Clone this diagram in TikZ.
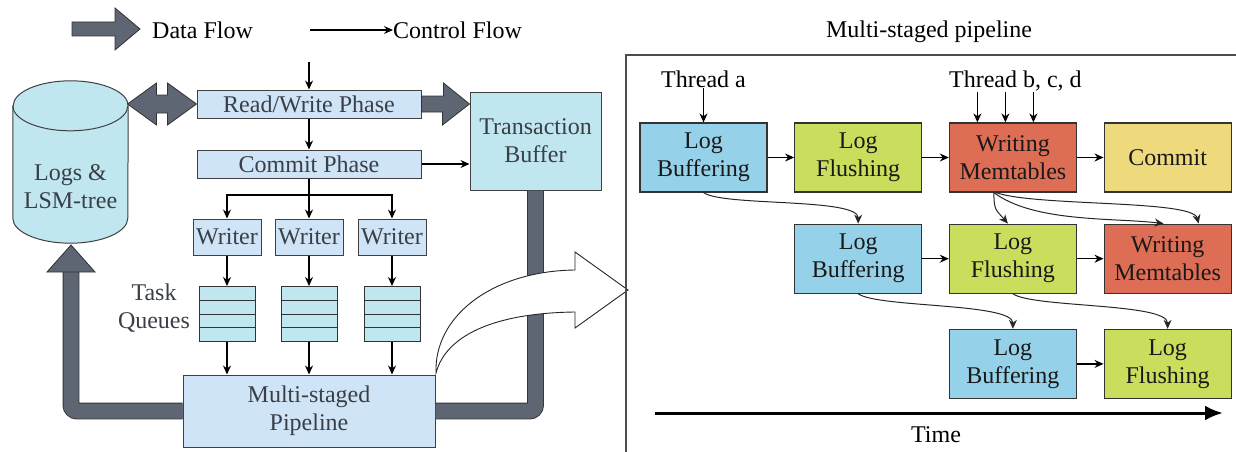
\documentclass[tikz,border=0pt]{standalone}
\usepackage{fontspec}
\setmainfont{LiberationSerif}[Extension=.ttf, UprightFont=*-Regular, BoldFont=*-Bold, ItalicFont=*-Italic, BoldItalicFont=*-BoldItalic]
\usepackage{xcolor}
\usetikzlibrary{arrows.meta,positioning,calc}

\definecolor{phaseblue}{HTML}{CFE4F6}
\definecolor{bufcyan}{HTML}{C0E6F0}
\definecolor{logblue}{HTML}{96D1EA}
\definecolor{flushgreen}{HTML}{CADD5C}
\definecolor{memred}{HTML}{DE6D55}
\definecolor{commityellow}{HTML}{EED97C}
\definecolor{flowgray}{HTML}{5E6673}
\definecolor{lefttext}{HTML}{3A3F47}

\begin{document}
\begin{tikzpicture}[
    x=1pt, y=1pt,
    font=\rmfamily\fontsize{24}{28}\selectfont,
    phase/.style={draw=black!75, fill=phaseblue, text=lefttext, align=center, inner sep=0pt, line width=1pt},
    queue/.style={draw=black!80, fill=bufcyan, line width=1pt, minimum width=56, minimum height=55, inner sep=0pt,
        path picture={\foreach \k in {1,2,3}
            \draw[line width=1pt, black!80]
                ($(path picture bounding box.north west)!\k/4!(path picture bounding box.south west)$) --
                ($(path picture bounding box.north east)!\k/4!(path picture bounding box.south east)$);}},
    stage/.style={draw=black!80, line width=1.2pt, align=center, text=black!90, minimum width=127, minimum height=69, inner sep=0pt},
    arrow/.style={-{Stealth[length=9pt, width=8pt]}, line width=1.2pt},
    curved/.style={-{Stealth[length=9pt, width=8pt]}, line width=1pt, black!85},
    fatflow/.style={draw=black!80, fill=flowgray, line width=0.8pt},
    fatpipe/.style={line width=0.9pt, black!80, double=flowgray, double distance=15pt, rounded corners=6pt},
    node distance=31 and 26.5
]
\useasboundingbox (0,0) rectangle (1236,451);

% legend
\draw[fatflow] (72,415) -- (115,415) -- (115,401) -- (140,422) -- (115,443) -- (115,429) -- (72,429) -- cycle;
\node[anchor=west, inner sep=0pt] (dflow) at (152,421) {Data Flow};
\coordinate (cfstart) at (310,421);
\node[anchor=west, inner sep=0pt] (cflow) at (393,421) {Control Flow};
\draw[arrow] (cfstart) -- (cflow.west);

% left: storage engine
\node[minimum width=115, minimum height=162, inner sep=0pt] (store) at (70.5,289) {};
\path[draw=black!75, fill=bufcyan, line width=1pt] ([yshift=-25]store.north west) -- ([yshift=25]store.south west)
    arc[start angle=180, end angle=360, x radius=57.5, y radius=25] -- ([yshift=-25]store.north east)
    arc[start angle=0, end angle=180, x radius=57.5, y radius=25] -- cycle;
\draw[black!75, line width=1pt] ([yshift=-25]store.north west) arc[start angle=180, end angle=360, x radius=57.5, y radius=25];
\node[align=center, text=lefttext] (storelabel) at (70.5,264) {Logs \&\\LSM-tree};

\node[phase, minimum width=224, minimum height=28] (rw) at (309,347) {Read/Write Phase};
\node[phase, minimum width=224, minimum height=28] (cphase) at (309,287) {Commit Phase};
\node[draw=black!75, fill=bufcyan, text=lefttext, align=center, line width=1pt, minimum width=131, minimum height=98] (tbuf) at (535.5,310) {Transaction\\Buffer};
\foreach \i/\cx in {1/227,2/309,3/392} {
    \node[phase, minimum width=68, minimum height=36] (writer\i) at (\cx,214) {Writer};
    \node[queue] (queue\i) at (\cx,137) {};
}
\node[align=center, inner sep=0pt, text=lefttext] (tasklabel) at (154,143) {Task\\Queues};
\node[phase, minimum width=252, minimum height=72] (pipe) at (309,40) {Multi-staged\\Pipeline};

% control flow
\coordinate (rwin) at (309,389);
\coordinate (fan) at (309,256);
\draw[arrow] (rwin) -- (rw.north);
\draw[arrow] (rw) -- (cphase);
\draw[arrow] (cphase.east) -- (cphase.east -| tbuf.west);
\draw[arrow] (cphase) -- (writer2);
\draw[arrow] (fan) -| (writer1);
\draw[arrow] (fan) -| (writer3);
\foreach \i in {1,2,3} {
    \draw[arrow] (writer\i) -- (queue\i);
    \draw[arrow] (queue\i) -- (queue\i |- pipe.north);
}

% data flow
\draw[fatflow] (rw.west) -- ++(-29,21) -- ++(0,-12) -- ++(-11,0) -- ++(0,12) -- ++(-29,-21)
    -- ++(29,-21) -- ++(0,12) -- ++(11,0) -- ++(0,-12) -- cycle;
\draw[fatflow] ([yshift=8]rw.east) -- ++(22,0) -- ++(0,13) -- (tbuf.west |- rw.east) -- ++(-27,-21)
    -- ++(0,13) -- ([yshift=-8]rw.east) -- cycle;
\draw[fatpipe] (tbuf.south) -- (tbuf.south |- pipe.east) -- (pipe.east);
\coordinate (storein) at (71,206);
\draw[fatpipe] (pipe.west) -- (pipe.west -| storein) -- ([yshift=-27]storein);
\draw[fatflow] (storein) -- ++(-24,-27) -- ++(48,0) -- cycle;

% zoom-out arrow
\draw[black!85, fill=white, line width=0.9pt] (436,78) .. controls (446,116) and (495,138) .. (575,139)
    -- (575,123) -- (628,161) -- (575,199) -- (575,181) .. controls (495,180) and (438,138) .. (436,84) -- cycle;

% right: pipeline stages
\node (ptitle) at (929,419) {Multi-staged pipeline};
\draw[line width=1.5pt, black!70] (626,-20) rectangle (1260,396);

\node[stage, fill=logblue] (buf1) at (703.5,293.5) {Log\\Buffering};
\node[stage, fill=flushgreen, right=of buf1] (flush1) {Log\\Flushing};
\node[stage, fill=memred, right=of flush1] (mem1) {Writing\\Memtables};
\node[stage, fill=commityellow, right=of mem1] (commit1) {Commit};
\node[stage, fill=logblue, below=of flush1] (buf2) {Log\\Buffering};
\node[stage, fill=flushgreen, right=of buf2] (flush2) {Log\\Flushing};
\node[stage, fill=memred, right=of flush2] (mem2) {Writing\\Memtables};
\node[stage, fill=logblue, below=35 of flush2] (buf3) {Log\\Buffering};
\node[stage, fill=flushgreen, right=of buf3] (flush3) {Log\\Flushing};

\coordinate (threadrow) at (0,364);
\node[anchor=base, inner sep=1pt] (threada) at (buf1.north |- threadrow) {Thread a};
\node[anchor=base, inner sep=1pt] (threadb) at ([xshift=2.5]mem1.north |- threadrow) {Thread b, c, d};
\draw[arrow] (threada) -- (buf1);
\foreach \dx in {-35.5,-7.5,20.5}
    \draw[arrow] ([xshift=\dx]mem1.north |- threadb.south) -- ([xshift=\dx]mem1.north);

\draw[arrow] (buf1) -- (flush1);
\draw[arrow] (flush1) -- (mem1);
\draw[arrow] (mem1) -- (commit1);
\draw[arrow] (buf2) -- (flush2);
\draw[arrow] (flush2) -- (mem2);
\draw[arrow] (buf3) -- (flush3);

\draw[curved] (buf1.south) .. controls +(20,-14) and +(0,26) .. (buf2.north);
\draw[curved] (buf2.south) .. controls +(20,-14) and +(0,26) .. (buf3.north);
\draw[curved] (flush2.south) .. controls +(20,-14) and +(0,26) .. (flush3.north);
\draw[curved] ([xshift=-19]mem1.south) .. controls +(0,-18) and +(-12,14) .. ([xshift=-5]flush2.north);
\draw[curved] ([xshift=-19]mem1.south) .. controls +(40,-30) and +(-50,6) .. ([xshift=-4]mem2.north);
\draw[curved] ([xshift=-17]mem1.south) .. controls +(40,-14) and +(-6,24) .. ([xshift=31]mem2.north);

% time axis
\coordinate (tstart) at (655,38);
\coordinate (tend) at (1223,38);
\draw[line width=3pt, -{Latex[length=18pt, width=15pt]}] (tstart) -- (tend);
\node (timelabel) at (936,16) {Time};
\end{tikzpicture}
\end{document}
